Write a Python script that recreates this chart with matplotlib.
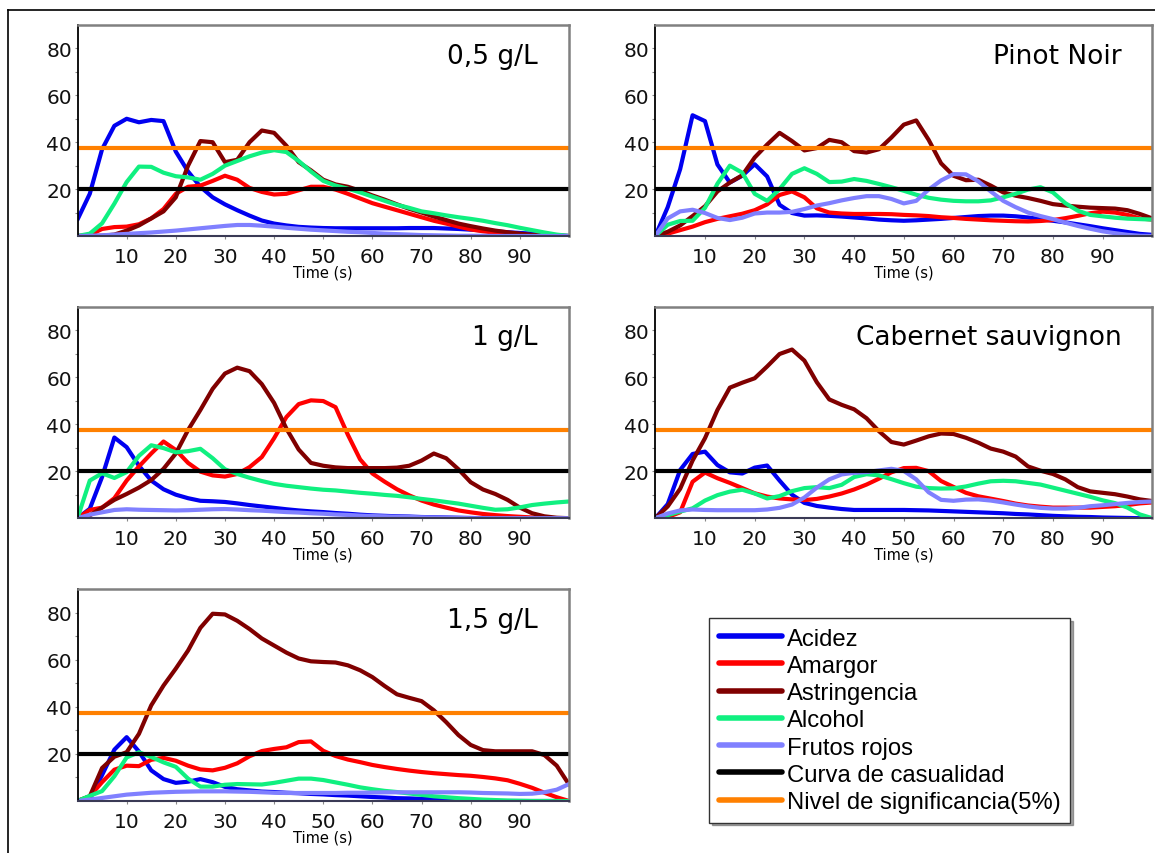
import numpy as np
import matplotlib
matplotlib.use("Agg")
import matplotlib.pyplot as plt
from matplotlib.lines import Line2D

# ---------------- data ----------------
time_s = np.arange(0, 100.01, 2.5)

series_names = ["Acidez", "Amargor", "Astringencia", "Alcohol", "Frutos rojos"]
series_colors = ["#0000F0", "#FF0000", "#800000", "#10F080", "#8080FF"]
ref_names = ["Curva de casualidad", "Nivel de significancia(5%)"]
ref_values = [20, 37.5]
ref_colors = ["#000000", "#FF8000"]

panel_titles = ["0,5 g/L", "Pinot Noir", "1 g/L", "Cabernet sauvignon", "1,5 g/L"]
x_ticks = [10, 20, 30, 40, 50, 60, 70, 80, 90]
y_ticks = [20, 40, 60, 80]

# 0,5 g/L
acidez_05 = [7, 18, 37, 47, 50, 48.5, 49.5, 49, 36, 27.5, 21, 16.5, 13.5, 11, 8.7, 6.6, 5.3, 4.5, 3.9, 3.6, 3.4, 3.3, 3.3, 3.3, 3.3, 3.3, 3.3, 3.4, 3.4, 3.4, 3.2, 3.0, 2.7, 2.4, 2.0, 1.6, 1.3, 1.0, 0.6, 0.3, 0]
amargor_05 = [0, 0.5, 3, 3.8, 4, 5, 7.5, 11.5, 18, 21, 21.5, 23.5, 25.7, 24, 20.5, 18.8, 17.7, 18, 19.5, 21, 21, 19.8, 18, 16, 14, 12.5, 11, 9.5, 8, 6.5, 5.3, 4, 2.8, 2, 1.4, 1, 0.6, 0.2, 0, 0, 0]
astring_05 = [0, 0, 0.1, 0.6, 2.3, 4.5, 7.5, 10.5, 16.5, 30, 40.5, 40, 31.5, 32.5, 40, 45, 44, 38.5, 31.5, 28, 24, 22, 21, 19.3, 17.3, 15.5, 13.5, 11.6, 10, 8.3, 6.8, 5.3, 4.2, 3.2, 2.3, 1.6, 1, 0.5, 0.1, 0, 0]
alcohol_05 = [0, 1, 5.4, 13.8, 23, 29.6, 29.5, 27, 25.5, 25, 24, 26.5, 30, 32, 34, 35.6, 36.6, 35.8, 32, 27.5, 23.5, 21.5, 20.2, 18.6, 16.8, 15, 13.3, 12, 10.5, 9.7, 8.8, 8, 7.3, 6.5, 5.5, 4.6, 3.5, 2.5, 1.5, 0.6, 0]
frutos_05 = [0, 0.1, 0.3, 0.6, 0.9, 1.2, 1.5, 1.9, 2.3, 2.8, 3.3, 3.8, 4.3, 4.7, 4.7, 4.4, 4, 3.5, 3.1, 2.7, 2.4, 2.1, 1.8, 1.6, 1.3, 1, 0.8, 0.6, 0.4, 0.3, 0.2, 0.1, 0.1, 0.1, 0, 0, 0, 0, 0, 0, 0]

# Pinot Noir
acidez_pn = [0, 12.3, 28.5, 51.5, 49, 30.5, 22.8, 25.7, 30.6, 25.4, 13.3, 9.8, 8.7, 8.8, 8.6, 8.3, 7.9, 7.5, 7, 6.7, 6.5, 6.7, 7, 7.3, 7.7, 8.1, 8.5, 8.7, 8.7, 8.4, 7.9, 7.2, 6.5, 5.8, 5, 4.2, 3.3, 2.5, 1.7, 0.9, 0.5]
amargor_pn = [0, 1, 2.5, 4, 5.9, 7.3, 8.4, 9.5, 11, 13.5, 17.5, 19, 16.5, 11.8, 10, 9.6, 9.4, 9.4, 9.4, 9.3, 9, 8.8, 8.5, 8, 7.7, 7.3, 7, 6.7, 6.5, 6.3, 6.2, 6.4, 6.8, 7.6, 8.6, 9.7, 10.4, 10, 9, 7.5, 7]
astring_pn = [0, 1.8, 4.5, 8.5, 12.7, 19, 22.8, 25.9, 33.5, 39, 44, 40.5, 36.5, 37.5, 41, 40, 36.2, 35.6, 37, 42, 47.5, 49.3, 41, 31, 25.7, 23.8, 24, 21.5, 18.6, 17.2, 16.2, 15, 13.6, 13, 12.5, 12.1, 11.9, 11.7, 11, 9.4, 7.5]
alcohol_pn = [0, 4.8, 6.4, 6.5, 12, 22.3, 30, 27, 18, 15, 20, 26.5, 28.9, 26.5, 23, 23.2, 24.3, 23.5, 22.2, 20.8, 19.3, 17.6, 16.3, 15.5, 15, 14.8, 14.8, 15.2, 16.5, 18, 19.8, 20.8, 18.6, 14, 10.8, 9, 8.4, 7.8, 7.4, 7.2, 7]
frutos_pn = [0, 7.5, 10.5, 11.2, 9.8, 7.7, 6.8, 7.8, 9.6, 10, 10, 10.3, 11.5, 13, 14, 15.2, 16.2, 17, 17, 15.8, 13.9, 15, 19.8, 23.7, 26.4, 26.3, 23.3, 19, 15, 12.3, 10, 8.5, 7.2, 5.7, 4.3, 3.1, 2, 1.2, 0.5, 0.1, 0]

# 1 g/L
acidez_1 = [0, 4, 17.5, 34.3, 30.2, 22.3, 16, 12.3, 10, 8.5, 7.4, 7.2, 6.9, 6.3, 5.6, 5, 4.4, 3.8, 3.3, 2.9, 2.6, 2.2, 1.9, 1.5, 1.2, 1, 0.8, 0.7, 0.5, 0.4, 0.3, 0.2, 0.1, 0, 0, 0, 0, 0, 0, 0, 0]
amargor_1 = [0, 3.5, 4.5, 8.5, 16, 22, 27.5, 32.6, 29, 23.5, 19.8, 18.2, 17.7, 18.8, 21.7, 26, 34, 43, 48.5, 50.1, 49.8, 47.2, 35.5, 25, 19, 15.5, 12.3, 9.7, 7.5, 5.8, 4.5, 3.3, 2.5, 1.8, 1.3, 0.9, 0.6, 0.3, 0.1, 0, 0]
astring_1 = [0, 1.2, 4.5, 7.8, 10.3, 13, 16.2, 21, 27.5, 37.5, 46, 55, 61.5, 64, 62.5, 57, 49, 38.1, 29.2, 23.5, 22.3, 21.6, 21.3, 21.3, 21.3, 21.3, 21.5, 22.3, 24.5, 27.5, 25.5, 20.8, 15.3, 12.2, 10.3, 7.8, 4.5, 2.1, 0.8, 0.2, 0]
alcohol_1 = [0, 16, 19.1, 17.1, 19.6, 26.5, 31, 29.8, 28, 28.5, 29.5, 25.5, 20.8, 18.8, 17.2, 15.8, 14.6, 13.8, 13.2, 12.6, 12.1, 11.8, 11.3, 10.8, 10.4, 9.9, 9.5, 8.9, 8.2, 7.6, 6.9, 6.2, 5.3, 4.4, 3.6, 3.8, 4.6, 5.6, 6.2, 6.7, 7.1]
frutos_1 = [0, 1.5, 2.5, 3.5, 3.8, 3.6, 3.5, 3.4, 3.3, 3.4, 3.6, 3.8, 3.9, 3.7, 3.4, 3.2, 2.9, 2.6, 2.4, 2.1, 1.9, 1.6, 1.4, 1.1, 0.9, 0.8, 0.6, 0.5, 0.4, 0.3, 0.2, 0.1, 0, 0, 0, 0, 0, 0, 0, 0, 0]

# Cabernet sauvignon
acidez_cs = [0, 6, 20.5, 27.3, 28.3, 22.6, 19.5, 19, 21.5, 22.4, 16, 10, 6.5, 5.2, 4.5, 3.9, 3.5, 3.5, 3.5, 3.5, 3.5, 3.4, 3.3, 3.1, 2.9, 2.7, 2.5, 2.3, 2.1, 1.8, 1.6, 1.3, 1, 0.8, 0.6, 0.5, 0.3, 0.2, 0.1, 0, 0]
amargor_cs = [0, 0.5, 2.5, 15.5, 19.4, 17, 15, 12.8, 10.6, 9.2, 8.4, 8, 7.7, 8.2, 9.2, 10.5, 12.2, 14.3, 16.8, 19.5, 21.3, 21.4, 20, 15.8, 13.3, 10.8, 9.3, 8.3, 7.3, 6.2, 5.4, 4.9, 4.5, 4.5, 4.5, 4.5, 4.8, 5.1, 5.6, 6.3, 6.7]
astring_cs = [0, 5, 12.5, 24.5, 34, 46, 55.5, 57.6, 59.5, 64.5, 69.8, 71.7, 67, 57.8, 50.5, 48.2, 46.3, 42.5, 37, 32.4, 31.3, 33, 34.8, 36, 35.8, 34.2, 32.1, 29.6, 28.3, 26.2, 22, 20.2, 18.8, 16.5, 13.2, 11.4, 10.8, 10.2, 9.2, 8, 7.3]
alcohol_cs = [0, 1.3, 2.8, 4.2, 7.5, 9.8, 11.3, 12.1, 10.5, 8.4, 9.4, 11.5, 12.8, 13.2, 12.8, 14.2, 17.5, 18.7, 18.2, 16.6, 14.9, 13.4, 12.8, 12.6, 12.7, 13.5, 14.7, 15.7, 15.9, 15.7, 15, 14.3, 13, 11.7, 10.4, 9.1, 7.6, 6.4, 4.5, 1.6, 0]
frutos_cs = [0, 2, 3.3, 3.7, 3.5, 3.4, 3.4, 3.4, 3.4, 3.7, 4.4, 5.8, 8.8, 13, 16.5, 18.6, 19.3, 19.6, 20.3, 21, 20.1, 16.5, 11, 7.8, 7.4, 7.9, 8, 7.5, 6.7, 5.8, 5, 4.4, 4.1, 4.1, 4.4, 5.1, 5.5, 6, 6.5, 6.9, 7.1]

# 1,5 g/L
acidez_15 = [0, 0.8, 11, 21.8, 27.1, 21, 13, 9.3, 7.7, 8.2, 9.3, 8, 6, 5, 4.5, 4, 3.8, 3.5, 3.3, 3, 2.8, 2.5, 2.3, 2, 1.7, 1.5, 1.2, 1.1, 0.9, 0.8, 0.6, 0.4, 0.2, 0, 0, 0, 0, 0, 0, 0, 0]
amargor_15 = [0, 2, 8, 13.3, 15, 14.8, 17.5, 18.3, 17.1, 15, 13.4, 13, 14.1, 16, 19, 21.2, 22.1, 22.8, 25, 25.3, 21.3, 19.1, 17.6, 16.5, 15.3, 14.4, 13.6, 12.9, 12.3, 11.8, 11.4, 11, 10.7, 10.2, 9.6, 8.8, 7.3, 5.6, 3.5, 1.6, 0]
astring_15 = [0, 2, 14, 18.8, 20.7, 28.5, 40.6, 49, 56.2, 63.9, 73.5, 79.5, 79.2, 76.5, 73, 69, 66, 63, 60.5, 59.3, 59, 58.8, 57.6, 55.5, 52.6, 48.8, 45.3, 43.8, 42.4, 38.5, 33.5, 28, 23.8, 21.6, 21.1, 21.1, 21.1, 21.1, 19.5, 15, 7]
alcohol_15 = [0, 2.2, 4.2, 10.5, 18.5, 20.7, 18.7, 16.4, 14.5, 9.5, 6.1, 6.1, 6.9, 7.2, 7.1, 7, 7.7, 8.6, 9.5, 9.5, 8.9, 7.9, 6.9, 5.8, 5, 4.3, 3.8, 3.2, 2.6, 2, 1.6, 1.2, 0.9, 0.6, 0.4, 0.2, 0.1, 0, 0, 0, 0]
frutos_15 = [0, 0.6, 1.3, 2, 2.7, 3.1, 3.5, 3.7, 3.9, 4, 4.1, 4.1, 4.1, 4, 3.9, 3.7, 3.5, 3.4, 3.4, 3.4, 3.4, 3.4, 3.5, 3.5, 3.6, 3.7, 3.7, 3.7, 3.7, 3.7, 3.7, 3.7, 3.6, 3.4, 3.3, 3.2, 3, 3.1, 3.7, 4.8, 7.2]

panel_series = [
    [acidez_05, amargor_05, astring_05, alcohol_05, frutos_05],
    [acidez_pn, amargor_pn, astring_pn, alcohol_pn, frutos_pn],
    [acidez_1, amargor_1, astring_1, alcohol_1, frutos_1],
    [acidez_cs, amargor_cs, astring_cs, alcohol_cs, frutos_cs],
    [acidez_15, amargor_15, astring_15, alcohol_15, frutos_15],
]

# ---------------- layout ----------------
W, H = 1155, 854
fig = plt.figure(figsize=(W / 100, H / 100), dpi=100)
fig.patch.set_facecolor("white")

# pixel boxes: (left, top, right, bottom)
boxes = [
    (77.5, 26, 569, 237),
    (655.3, 26, 1152.3, 237),
    (77.5, 307.5, 569, 519.2),
    (655.3, 307.5, 1152.3, 519.2),
    (77.5, 590, 569, 802),
]

# outer frame of the figure
fig.add_artist(Line2D([8 / W, 8 / W], [0, 1 - 11 / H], transform=fig.transFigure,
                      color="black", lw=1.2))
fig.add_artist(Line2D([8 / W, 1], [1 - 11 / H, 1 - 11 / H], transform=fig.transFigure,
                      color="black", lw=1.2))

FONT = "DejaVu Sans"
for i, (l, t, r, b) in enumerate(boxes):
    ax = fig.add_axes([l / W, 1 - b / H, (r - l) / W, (b - t) / H])
    for vals, col in zip(panel_series[i], series_colors):
        ax.plot(time_s, vals, color=col, lw=3.0, solid_joinstyle="round",
                solid_capstyle="round")
    for v, col in zip(ref_values, ref_colors):
        ax.axhline(v, color=col, lw=3.0)
    ax.set_xlim(0, 100)
    ax.set_ylim(0, 90)
    ax.set_xticks(x_ticks)
    ax.set_yticks(y_ticks)
    ax.set_yticks(list(range(10, 90, 10)), minor=True)
    ax.tick_params(axis="y", which="both", length=2.5, width=0.8, color="#888888",
                   direction="out", pad=1.5, labelsize=14.5)
    ax.tick_params(axis="x", which="both", length=2.5, width=0.8, color="#888888",
                   direction="out", pad=5.5, labelsize=14.5)
    for lab in ax.get_xticklabels() + ax.get_yticklabels():
        lab.set_fontfamily(FONT)
        lab.set_color("#111111")
    ax.set_xlabel("Time (s)", fontsize=10.5, family=FONT, labelpad=-1)
    ax.spines["left"].set_color("black")
    ax.spines["left"].set_linewidth(1.3)
    ax.spines["top"].set_color("#808080")
    ax.spines["top"].set_linewidth(1.8)
    ax.spines["right"].set_color("#808080")
    ax.spines["right"].set_linewidth(1.8)
    ax.spines["bottom"].set_color("#3a3a55")
    ax.spines["bottom"].set_linewidth(1.5)
    ax.annotate(panel_titles[i], xy=(1, 1), xycoords="axes fraction",
                xytext=(-31, -37.5), textcoords="offset pixels",
                ha="right", va="baseline", fontsize=19, family=FONT, color="black")

# ---------------- legend ----------------
handles = [Line2D([], [], color=c, lw=4, solid_capstyle="round")
           for c in series_colors + ref_colors]
labels = series_names + ref_names
leg = fig.legend(handles, labels, loc="upper left",
                 bbox_to_anchor=(709 / W, 1 - 619 / H), borderaxespad=0,
                 frameon=True, fancybox=False, shadow=True,
                 prop={"family": "Liberation Sans", "size": 17.2},
                 handlelength=2.65, handletextpad=0.2, labelspacing=0.22,
                 borderpad=0.4)
leg.get_frame().set_edgecolor("#333333")
leg.get_frame().set_linewidth(1.0)

fig.savefig("out.png", dpi=100, facecolor="white")
